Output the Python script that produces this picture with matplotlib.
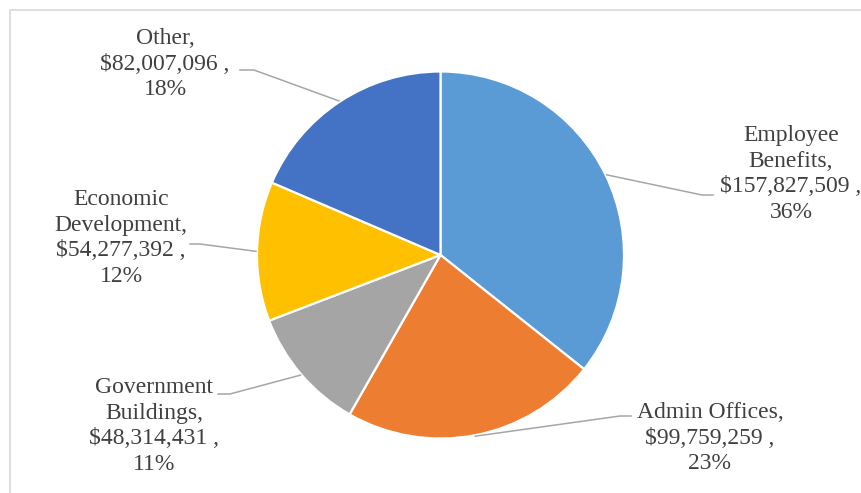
import numpy as np
import matplotlib.pyplot as plt
from matplotlib.patches import Rectangle

# spending by category
categories = ["Employee Benefits", "Admin Offices", "Government Buildings",
              "Economic Development", "Other"]
amounts = [157827509, 99759259, 48314431, 54277392, 82007096]
percents = [36, 23, 11, 12, 18]
label_text = ["Employee\nBenefits,\n$157,827,509 ,\n36%",
              "Admin Offices,\n$99,759,259 ,\n23%",
              "Government\nBuildings,\n$48,314,431 ,\n11%",
              "Economic\nDevelopment,\n$54,277,392 ,\n12%",
              "Other,\n$82,007,096 ,\n18%"]
colors = ["#5B9BD5", "#ED7D31", "#A5A5A5", "#FFC000", "#4472C4"]

W, H = 862, 493
# label block centres, leader elbow and end of the short horizontal tick (pixels, y down)
label_pos = [(791, 174), (710, 438), (154, 426), (121, 238), (165, 64)]
elbows = [((702, 195), (713, 195)), ((620, 416), (631, 416)),
          ((230, 394), (218, 394)), ((200, 244), (190, 244)),
          ((254, 70), (240, 70))]


def px(x, y):
    return x, H - y


fig = plt.figure(figsize=(W / 100, H / 100), dpi=100)
ax = fig.add_axes([0, 0, 1, 1])

cx, cy = px(440.5, 255)
r = 183.5
wedges, _ = ax.pie(amounts, colors=colors, startangle=90, counterclock=False,
                   center=(cx, cy), radius=r,
                   wedgeprops=dict(edgecolor="white", linewidth=1.6))

ax.set_xlim(0, W)
ax.set_ylim(0, H)
ax.set_aspect("equal")
ax.axis("off")

for w, txt, pos, (elb, tick) in zip(wedges, label_text, label_pos, elbows):
    mid = np.deg2rad((w.theta1 + w.theta2) / 2)
    sx = cx + (r + 1) * np.cos(mid)
    sy = cy + (r + 1) * np.sin(mid)
    ex, ey = px(*elb)
    tx, ty = px(*tick)
    ax.plot([sx, ex, tx], [sy, ey, ty], color="#A6A6A6", lw=1.1,
            solid_joinstyle="round", zorder=3)
    ax.text(*px(*pos), txt, ha="center", va="center", fontsize=17,
            family="Liberation Serif", color="#404040", linespacing=1.3)

# chart area frame
fig.patches.append(Rectangle((10 / W, -0.1), 1.2, 1 - 10 / H + 0.1,
                             transform=fig.transFigure, fill=False,
                             edgecolor="#D9D9D9", lw=1.2))

fig.savefig("out.png", dpi=100)
